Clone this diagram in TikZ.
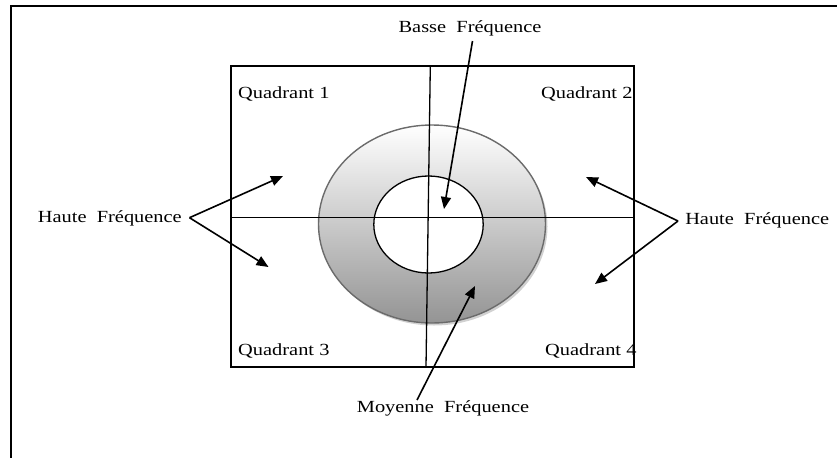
\documentclass[tikz,border=0pt]{standalone}
\usepackage{fontspec}
\setmainfont{Liberation Serif}
\usetikzlibrary{arrows.meta}
\tikzset{
  lbl/.style={inner sep=0pt, font=\fontsize{17}{20}\selectfont, xscale=1.2},
  arr/.style={line width=1.6pt, -{Triangle[length=12pt,width=10pt]}},
  thin/.style={line width=1.3pt},
}
\begin{document}
\begin{tikzpicture}[x=1pt,y=-1pt]
\useasboundingbox (0,0) rectangle (837,458);
% outer frame
\draw[line width=2.2pt] (837,6) -- (11,6) -- (11,458);
% quadrant box
\draw[thin] (231,66) rectangle (634,367);
% ellipse with shadow
\fill[black!18] (434,226.5) ellipse [x radius=113.5, y radius=99];
\shade[top color=white, bottom color=black!42] (432,224) ellipse [x radius=113.5, y radius=99];
\draw[line width=1.4pt, black!58] (432,224) ellipse [x radius=113.5, y radius=99];
\draw[thin, fill=white] (428.5,224.5) ellipse [x radius=54.7, y radius=48.5];
% dividers
\draw[thin] (430.3,66) -- (426,367);
\draw[thin] (231,217.7) -- (634,217.7);
% labels
\node[lbl] (basse) at (470,28) {Basse\ \ Fréquence};
\node[lbl] (moy) at (443,408) {Moyenne\ \ Fréquence};
\node[lbl, anchor=east] (hautel) at (182,218) {Haute\ \ Fréquence};
\node[lbl, anchor=west] (hauter) at (685,220) {Haute\ \ Fréquence};
\node[lbl, anchor=west] (q1) at (238,94) {Quadrant 1};
\node[lbl, anchor=west] (q2) at (541,94) {Quadrant 2};
\node[lbl, anchor=west] (q3) at (238,351) {Quadrant 3};
\node[lbl, anchor=west] (q4) at (545,351) {Quadrant 4};
% arrow coordinates
\coordinate (bs) at (472.5,41);
\coordinate (bt) at (444,209);
\coordinate (ms) at (417,400);
\coordinate (mt) at (475,286);
\coordinate (lv) at (189.5,217.7);
\coordinate (lt1) at (283,176);
\coordinate (lt2) at (268.5,267);
\coordinate (rv) at (678,221);
\coordinate (rt1) at (586,177);
\coordinate (rt2) at (595,284);
% arrows
\draw[arr] (bs) -- (bt);
\draw[arr] (ms) -- (mt);
\draw[arr] (lv) -- (lt1);
\draw[arr] (lv) -- (lt2);
\draw[arr] (rv) -- (rt1);
\draw[arr] (rv) -- (rt2);
\end{tikzpicture}
\end{document}
